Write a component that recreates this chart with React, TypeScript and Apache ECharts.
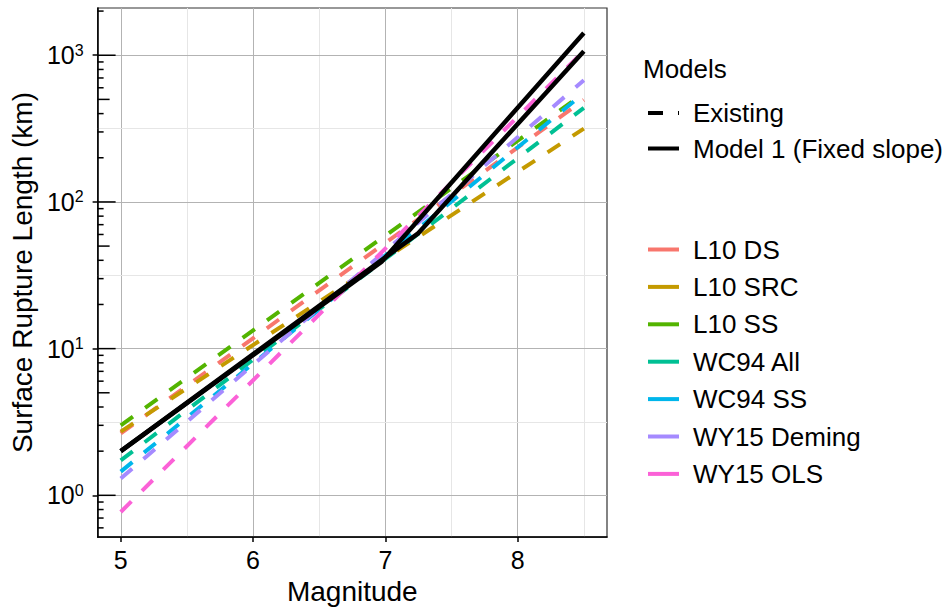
import React, { useEffect, useRef } from 'react';
import * as echarts from 'echarts';

const FONT = '"Liberation Sans", Arial, Helvetica, sans-serif';

// ---- data ----
const magnitudes = [5, 8.5];
const seriesNames = ['L10 DS', 'L10 SRC', 'L10 SS', 'WC94 All', 'WC94 SS', 'WY15 Deming', 'WY15 OLS'];
const seriesColors = ['#F8766D', '#C49A00', '#53B400', '#00C094', '#00B6EB', '#A58AFF', '#FB61D7'];
const L10DS = [2.64, 496];
const L10SRC = [2.72, 316];
const L10SS = [3.0, 551];
const WC94All = [1.73, 438];
const WC94SS = [1.45, 550];
const WY15Deming = [1.3, 675];
const WY15OLS = [0.77, 1070];
const existingValues = [L10DS, L10SRC, L10SS, WC94All, WC94SS, WY15Deming, WY15OLS];

const model1aM = [5, 6.97, 8.5];
const model1aL = [2.0, 39.0, 1420];
const model1bM = [5, 7.25, 8.5];
const model1bL = [2.0, 61.3, 1066];

// ---- axes ----
const X_MIN = 4.825;
const X_MAX = 8.675;
const Y_MIN = 0.519;
const Y_MAX = 2099;
const xTickValues = [5, 6, 7, 8];
const xMinorGrid = [5.5, 6.5, 7.5, 8.5];
const yTickValues = [1, 10, 100, 1000];
const yTickExps = ['0', '1', '2', '3'];
const yMinorGrid = [3.162, 31.62, 316.2];
const logTickValues = [
  0.6, 0.7, 0.8, 0.9,
  1, 2, 3, 4, 5, 6, 7, 8, 9,
  10, 20, 30, 40, 50, 60, 70, 80, 90,
  100, 200, 300, 400, 500, 600, 700, 800, 900,
  1000, 2000,
];

const MAJOR_GRID = '#b3b3b3';
const MINOR_GRID = '#e6e6e6';
const DASH = [15, 15];

function tickLen(v: number): number {
  const m = Math.round(v / Math.pow(10, Math.floor(Math.log10(v) + 1e-9)));
  if (m === 1) return 18;
  if (m === 5) return 12;
  return 6;
}

export default function App() {
  const ref = useRef<HTMLDivElement>(null);
  useEffect(() => {
    if (!ref.current) return;
    const chart = echarts.init(ref.current, undefined, { renderer: 'svg' });

    const gridLines: any[] = [
      ...xTickValues.map((v) => ({ xAxis: v, lineStyle: { color: MAJOR_GRID, width: 1, type: 'solid' } })),
      ...xMinorGrid.map((v) => ({ xAxis: v, lineStyle: { color: MINOR_GRID, width: 1, type: 'solid' } })),
      ...yTickValues.map((v) => ({ yAxis: v, lineStyle: { color: MAJOR_GRID, width: 1, type: 'solid' } })),
      ...yMinorGrid.map((v) => ({ yAxis: v, lineStyle: { color: MINOR_GRID, width: 1, type: 'solid' } })),
    ];

    const legendText = { fontFamily: FONT, fontSize: 26, lineHeight: 24, color: '#000', padding: [0, 0, 0, 9] };

    const option: any = {
      animation: false,
      backgroundColor: '#ffffff',
      textStyle: { fontFamily: FONT },
      title: {
        text: 'Models',
        left: 643,
        top: 56,
        padding: 0,
        textStyle: { fontFamily: FONT, fontSize: 26, fontWeight: 'normal', color: '#000', lineHeight: 26 },
      },
      grid: {
        left: 95,
        right: 341,
        top: 8,
        bottom: 70,
        show: true,
        borderColor: '#333333',
        borderWidth: 1.2,
        backgroundColor: 'transparent',
      },
      legend: [
        {
          data: ['Existing', 'Model 1 (Fixed slope)'],
          orient: 'vertical',
          left: 646,
          top: 100,
          padding: 0,
          itemWidth: 31,
          itemHeight: 4,
          itemGap: 9.5,
          selectedMode: false,
          itemStyle: { opacity: 0 },
          lineStyle: { width: 4 },
          textStyle: legendText,
        },
        {
          data: seriesNames,
          orient: 'vertical',
          left: 646,
          top: 236.5,
          padding: 0,
          itemWidth: 31,
          itemHeight: 4,
          itemGap: 11.4,
          selectedMode: false,
          itemStyle: { opacity: 0 },
          lineStyle: { type: 'solid', width: 4 },
          textStyle: legendText,
        },
      ],
      xAxis: {
        type: 'value',
        min: X_MIN,
        max: X_MAX,
        name: 'Magnitude',
        nameLocation: 'middle',
        nameGap: 38,
        nameTextStyle: { fontFamily: FONT, fontSize: 28, color: '#000', lineHeight: 28 },
        axisLine: { show: true, onZero: false, lineStyle: { color: '#000', width: 1.5 } },
        axisTick: { show: true, length: 5, customValues: xTickValues, lineStyle: { color: '#000', width: 1.5 } },
        axisLabel: {
          customValues: xTickValues,
          margin: 10,
          fontFamily: FONT,
          fontSize: 25,
          color: '#000',
          formatter: (v: number) => (xTickValues.indexOf(v) >= 0 ? String(v) : ''),
        },
        splitLine: { show: false },
      },
      yAxis: {
        type: 'log',
        logBase: 10,
        min: Y_MIN,
        max: Y_MAX,
        name: 'Surface Rupture Length (km)',
        nameLocation: 'middle',
        nameGap: 59,
        nameTextStyle: { fontFamily: FONT, fontSize: 28, color: '#000', lineHeight: 28 },
        axisLine: { show: true, onZero: false, lineStyle: { color: '#000', width: 1.5 } },
        axisTick: { show: true, length: 5, customValues: yTickValues, lineStyle: { color: '#000', width: 1.5 } },
        axisLabel: {
          customValues: yTickValues,
          margin: 14,
          formatter: (v: number) => {
            const i = yTickValues.findIndex((t) => Math.abs(t - v) / t < 1e-6);
            return i < 0 ? '' : `{b|10}{s|${yTickExps[i]}}`;
          },
          rich: {
            b: { fontFamily: FONT, fontSize: 25, lineHeight: 26, color: '#000' },
            s: { fontFamily: FONT, fontSize: 16, lineHeight: 16, color: '#000', verticalAlign: 'top' },
          },
        },
        splitLine: { show: false },
      },
      series: [
        {
          name: '__grid',
          type: 'line',
          data: [],
          z: 0,
          silent: true,
          markLine: {
            z: 0,
            silent: true,
            symbol: ['none', 'none'],
            label: { show: false },
            emphasis: { disabled: true },
            animation: false,
            data: gridLines,
          },
        },
        ...seriesNames.map((name, i) => ({
          name,
          type: 'line',
          data: magnitudes.map((m, j) => [m, existingValues[i][j]]),
          symbol: 'none',
          z: 2,
          silent: true,
          itemStyle: { color: seriesColors[i] },
          lineStyle: { color: seriesColors[i], width: 4, type: DASH, cap: 'butt' },
        })),
        {
          name: 'Existing',
          type: 'line',
          data: [],
          symbol: 'none',
          itemStyle: { color: '#000' },
          lineStyle: { color: '#000', width: 4, type: DASH, cap: 'butt' },
        },
        {
          name: 'Model 1 (Fixed slope)',
          type: 'line',
          data: model1aM.map((m, j) => [m, model1aL[j]]),
          symbol: 'none',
          z: 3,
          silent: true,
          itemStyle: { color: '#000' },
          lineStyle: { color: '#000', width: 4.5 },
        },
        {
          name: 'Model 1 (Fixed slope)',
          type: 'line',
          data: model1bM.map((m, j) => [m, model1bL[j]]),
          symbol: 'none',
          z: 3,
          silent: true,
          itemStyle: { color: '#000' },
          lineStyle: { color: '#000', width: 4.5 },
        },
        {
          name: '__logticks',
          type: 'custom',
          z: 5,
          silent: true,
          encode: { x: 0, y: 1 },
          data: logTickValues.map((v) => [X_MIN, v, tickLen(v)]),
          renderItem: (params: any, api: any) => {
            const p = api.coord([api.value(0), api.value(1)]);
            const len = api.value(2);
            return {
              type: 'line',
              shape: { x1: p[0], y1: p[1], x2: p[0] + len, y2: p[1] },
              style: { stroke: '#000', lineWidth: 1.5 },
            };
          },
        },
      ],
    };
    chart.setOption(option);
    return () => chart.dispose();
  }, []);

  return (
    <div
      ref={ref}
      style={{ position: 'fixed', left: 0, top: 0, width: 948, height: 610, background: '#fff' }}
    />
  );
}
